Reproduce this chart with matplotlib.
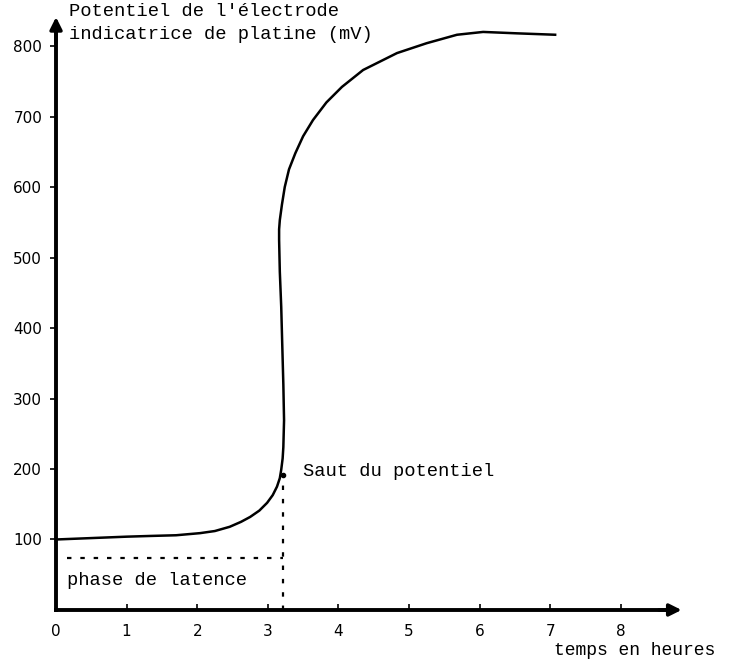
import matplotlib
matplotlib.use("Agg")
import matplotlib.pyplot as plt

# courbe : temps (h) / potentiel (mV)
t = [0.0, 0.5, 1.0, 1.33, 1.7, 2.04, 2.25, 2.46, 2.62, 2.75, 2.88, 2.99,
     3.07, 3.13, 3.17, 3.19, 3.21, 3.22, 3.23, 3.22, 3.20, 3.19, 3.17,
     3.16, 3.16, 3.17, 3.20, 3.24, 3.30, 3.39, 3.50, 3.64, 3.83, 4.05,
     4.35, 4.83, 5.25, 5.68, 6.05, 6.53, 7.07]
pot = [100, 102, 104, 105, 106, 109, 112, 118, 125, 132, 141, 152,
       163, 175, 187, 199, 215, 231, 269, 320, 393, 430, 480,
       525, 540, 553, 575, 600, 625, 648, 672, 695, 720, 742,
       766, 790, 804, 816, 820, 818, 816]

x_ticks = [0, 1, 2, 3, 4, 5, 6, 7, 8]
y_ticks = [100, 200, 300, 400, 500, 600, 700, 800]
t_saut = 3.21
pot_saut = 191
pot_latence = 74

mono = ["Liberation Mono", "DejaVu Sans Mono"]

fig = plt.figure(figsize=(7.4, 6.61), dpi=100)
ax = fig.add_axes([40 / 740, 36 / 661, 660 / 740, 620 / 661])
ax.set_xlim(-0.227, 9.122)
ax.set_ylim(-21.3, 858.2)

for s in ["top", "right"]:
    ax.spines[s].set_visible(False)
ax.spines["left"].set_position(("data", 0))
ax.spines["bottom"].set_position(("data", 0))
ax.spines["left"].set_linewidth(2.8)
ax.spines["bottom"].set_linewidth(2.8)
ax.spines["left"].set_bounds(0, 830)
ax.spines["bottom"].set_bounds(0, 8.75)

# pointes de fleche
ax.annotate("", xy=(0, 845), xytext=(0, 800),
            arrowprops=dict(arrowstyle="-|>", color="black", lw=2.5, mutation_scale=18))
ax.annotate("", xy=(8.9, 0), xytext=(8.5, 0),
            arrowprops=dict(arrowstyle="-|>", color="black", lw=2.5, mutation_scale=18))

ax.set_xticks(x_ticks)
ax.set_yticks(y_ticks)
ax.tick_params(axis="x", direction="in", length=4, width=1.2, pad=10, labelsize=11)
ax.tick_params(axis="y", direction="out", length=4, width=1.2, pad=6, labelsize=11)

ax.plot(t, pot, color="black", lw=1.8, solid_joinstyle="round")
ax.plot([t_saut], [pot_saut], "o", color="black", ms=3)
ax.plot([0.15, t_saut], [pot_latence, pot_latence], color="black", lw=1.6,
        linestyle=(0, (2, 4)))
ax.plot([t_saut, t_saut], [0, pot_saut], color="black", lw=1.6,
        linestyle=(0, (2, 4)))

ax.text(0.19, 849, "Potentiel de l'électrode", family=mono, fontsize=13.5,
        va="center", ha="left")
ax.text(0.19, 817, "indicatrice de platine (mV)", family=mono, fontsize=13.5,
        va="center", ha="left")
ax.text(0.16, 42, "phase de latence", family=mono, fontsize=13.5,
        va="center", ha="left")
ax.text(3.5, 197, "Saut du potentiel", family=mono, fontsize=13.5,
        va="center", ha="left")
ax.text(7.06, -58, "temps en heures", family=mono, fontsize=13,
        va="center", ha="left")

fig.savefig("out.png", dpi=100)
